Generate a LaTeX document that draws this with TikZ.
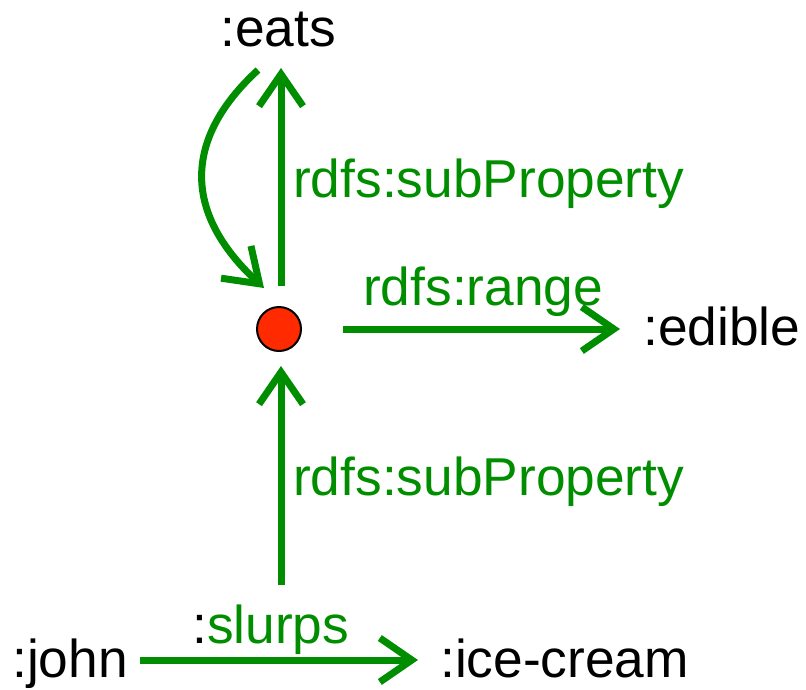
\documentclass[tikz,border=0pt]{standalone}
\usepackage{fontspec}
\setmainfont{Liberation Sans}
\usetikzlibrary{arrows.meta}
\definecolor{rdfgreen}{RGB}{0,142,0}
\definecolor{blankred}{RGB}{255,42,0}
\tikzset{
  lbl/.style={anchor=base west, inner sep=0pt, font=\fontsize{53.3}{60}\selectfont},
  glbl/.style={lbl, text=rdfgreen},
  arr/.style={draw=rdfgreen, line width=7pt, -{Straight Barb[length=32pt,width=44pt,line width=7pt]}},
  blank/.style={circle, draw=black, line width=2pt, fill=blankred, minimum size=44pt, inner sep=0pt}
}
\begin{document}
\begin{tikzpicture}[x=1pt,y=-1pt]
\useasboundingbox (0,0) rectangle (806,689);
\node[lbl] (eats) at (220,46) {:eats};
\node[blank] (dot) at (279,329) {};
\node[lbl] (edible) at (643,345) {:edible};
\node[lbl] (john) at (12,677) {:john};
\node[lbl] (ice) at (440,677) {:ice-cream};
\node[glbl] (sub1) at (293,197) {rdfs:subProperty};
\node[glbl] (sub2) at (293,495) {rdfs:subProperty};
\node[glbl] (range) at (363,305) {rdfs:range};
\node[glbl] (slurps) at (192,643) {\textcolor{black}{:}slurps};
\coordinate (eatsA) at (281,68);
\coordinate (eatsB) at (258,70);
\coordinate (dotTop) at (281,286);
\coordinate (dotIn) at (264,288);
\coordinate (dotBot) at (281,366);
\coordinate (subStart) at (281,585);
\coordinate (rangeStart) at (343,329);
\coordinate (rangeEnd) at (620,329);
\coordinate (johnEnd) at (140,660);
\coordinate (iceEnd) at (418,660);
\draw[arr] (dotTop) -- (eatsA);
\draw[arr] (eatsB) .. controls (184,138) and (182,212) .. (dotIn);
\draw[arr] (rangeStart) -- (rangeEnd);
\draw[arr] (subStart) -- (dotBot);
\draw[arr] (johnEnd) -- (iceEnd);
\end{tikzpicture}
\end{document}
